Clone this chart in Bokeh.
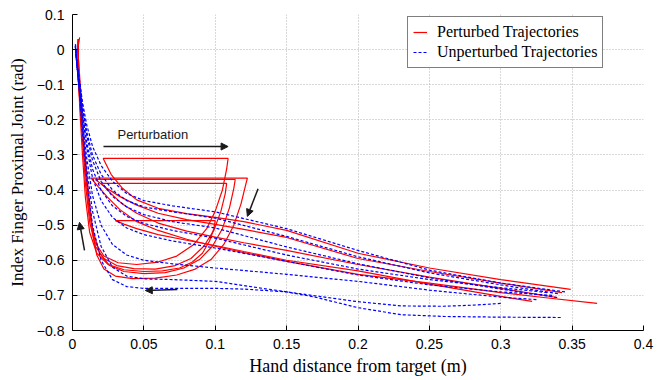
from bokeh.plotting import figure
from bokeh.models import (Range1d, FixedTicker, Legend, LegendItem, Arrow,
                          NormalHead, Label)
from bokeh.embed import file_html
from bokeh.resources import INLINE

# ---- perturbed trajectories (hand distance [m], PIP joint angle [rad]) ----
r1_x = [0.349, 0.30, 0.25, 0.20, 0.15, 0.12, 0.10, 0.08, 0.06, 0.045, 0.035, 0.027, 0.0215,
        0.109, 0.108, 0.105, 0.100, 0.094, 0.085, 0.073, 0.060, 0.045, 0.032, 0.022, 0.016,
        0.012, 0.009, 0.006, 0.004, 0.004, 0.005]
r1_y = [-0.683, -0.655, -0.622, -0.580, -0.515, -0.490, -0.478, -0.467, -0.452, -0.428, -0.395, -0.355, -0.310,
        -0.310, -0.340, -0.400, -0.460, -0.510, -0.555, -0.588, -0.605, -0.612, -0.607, -0.588, -0.550,
        -0.470, -0.350, -0.200, -0.080, 0.010, 0.035]

r2_x = [0.3675, 0.33, 0.30, 0.25, 0.20, 0.15, 0.12, 0.10, 0.08, 0.06, 0.045, 0.033, 0.024, 0.018, 0.013,
        0.1225, 0.121, 0.118, 0.113, 0.106, 0.097, 0.086, 0.073, 0.058, 0.042, 0.030, 0.022, 0.017,
        0.014, 0.011, 0.008, 0.005, 0.003, 0.004]
r2_y = [-0.723, -0.706, -0.692, -0.665, -0.640, -0.603, -0.578, -0.560, -0.540, -0.515, -0.490, -0.455, -0.418, -0.390, -0.366,
        -0.366, -0.390, -0.440, -0.500, -0.555, -0.598, -0.625, -0.642, -0.651, -0.652, -0.645, -0.625, -0.585,
        -0.520, -0.420, -0.280, -0.140, -0.030, 0.030]

r3_x = [0.343, 0.30, 0.25, 0.20, 0.15, 0.12, 0.10, 0.08, 0.06, 0.045, 0.033, 0.024, 0.016,
        0.114, 0.113, 0.110, 0.105, 0.098, 0.089, 0.078, 0.065, 0.050, 0.036, 0.026, 0.019,
        0.014, 0.011, 0.008, 0.006, 0.004, 0.004]
r3_y = [-0.692, -0.665, -0.632, -0.595, -0.535, -0.512, -0.498, -0.484, -0.466, -0.443, -0.418, -0.395, -0.370,
        -0.370, -0.395, -0.450, -0.510, -0.560, -0.598, -0.622, -0.635, -0.638, -0.632, -0.615, -0.580,
        -0.510, -0.400, -0.260, -0.130, -0.020, 0.030]

r4_x = [0.3395, 0.30, 0.25, 0.20, 0.15, 0.12, 0.10, 0.08, 0.06, 0.045, 0.035, 0.027, 0.020,
        0.108, 0.107, 0.104, 0.099, 0.092, 0.083, 0.072, 0.058, 0.043, 0.031, 0.022, 0.016,
        0.012, 0.009, 0.007, 0.005, 0.004, 0.004]
r4_y = [-0.706, -0.680, -0.648, -0.612, -0.572, -0.550, -0.534, -0.517, -0.494, -0.466, -0.440, -0.410, -0.381,
        -0.381, -0.410, -0.460, -0.515, -0.560, -0.595, -0.615, -0.625, -0.624, -0.615, -0.595, -0.560,
        -0.490, -0.380, -0.250, -0.120, -0.010, 0.025]

r5_x = [0.322, 0.30, 0.25, 0.20, 0.15, 0.12, 0.10, 0.08, 0.06, 0.045, 0.036, 0.030,
        0.100, 0.099, 0.096, 0.091, 0.084, 0.075, 0.063, 0.050, 0.036, 0.025, 0.017, 0.012,
        0.009, 0.007, 0.005, 0.004, 0.004]
r5_y = [-0.717, -0.703, -0.668, -0.630, -0.600, -0.575, -0.558, -0.543, -0.527, -0.510, -0.497, -0.487,
        -0.487, -0.510, -0.545, -0.580, -0.605, -0.622, -0.630, -0.632, -0.627, -0.612, -0.580, -0.520,
        -0.420, -0.300, -0.160, -0.040, 0.030]

# ---- unperturbed trajectories ----
b_grid = [0.30, 0.25, 0.20, 0.15, 0.10, 0.07, 0.05, 0.038, 0.028, 0.020, 0.014, 0.010, 0.007, 0.005, 0.003, 0.002]

b1_x = [0.345] + b_grid
b1_y = [-0.690, -0.665, -0.628, -0.572, -0.510, -0.462, -0.445, -0.430, -0.410, -0.375, -0.330, -0.275, -0.215, -0.150, -0.090, -0.030, 0.020]
b2_x = [0.340] + b_grid
b2_y = [-0.695, -0.670, -0.636, -0.590, -0.532, -0.480, -0.462, -0.448, -0.430, -0.400, -0.355, -0.300, -0.235, -0.160, -0.095, -0.030, 0.015]
b3_x = [0.3395] + b_grid
b3_y = [-0.706, -0.682, -0.650, -0.610, -0.562, -0.508, -0.490, -0.470, -0.448, -0.418, -0.375, -0.315, -0.245, -0.170, -0.100, -0.035, 0.010]
b4_x = [0.3325] + b_grid
b4_y = [-0.692, -0.678, -0.655, -0.625, -0.585, -0.537, -0.515, -0.495, -0.475, -0.445, -0.400, -0.340, -0.265, -0.180, -0.105, -0.035, 0.010]
b5_x = [0.336] + b_grid
b5_y = [-0.700, -0.690, -0.670, -0.642, -0.603, -0.565, -0.545, -0.527, -0.508, -0.478, -0.430, -0.365, -0.280, -0.190, -0.110, -0.040, 0.005]
b6_x = [0.325] + b_grid
b6_y = [-0.712, -0.705, -0.685, -0.660, -0.640, -0.622, -0.610, -0.600, -0.585, -0.555, -0.500, -0.415, -0.310, -0.205, -0.120, -0.040, 0.010]
b7_x = [0.30, 0.28, 0.26, 0.23, 0.20, 0.15, 0.10, 0.07, 0.05, 0.038, 0.028, 0.020, 0.014, 0.010, 0.007, 0.005, 0.003, 0.002]
b7_y = [-0.723, -0.728, -0.731, -0.730, -0.718, -0.690, -0.660, -0.655, -0.653, -0.645, -0.620, -0.560, -0.460, -0.340, -0.220, -0.120, -0.040, 0.010]
b8_x = [0.342, 0.30, 0.26, 0.23, 0.20, 0.17, 0.15, 0.12, 0.10, 0.07, 0.05, 0.038, 0.028, 0.020, 0.014, 0.010, 0.007, 0.005, 0.003, 0.002]
b8_y = [-0.763, -0.762, -0.760, -0.755, -0.735, -0.705, -0.690, -0.682, -0.680, -0.680, -0.680, -0.675, -0.655, -0.600, -0.500, -0.370, -0.240, -0.130, -0.040, 0.010]

red_xs = [r1_x, r2_x, r3_x, r4_x, r5_x]
red_ys = [r1_y, r2_y, r3_y, r4_y, r5_y]
blue_xs = [b1_x, b2_x, b3_x, b4_x, b5_x, b6_x, b7_x, b8_x]
blue_ys = [b1_y, b2_y, b3_y, b4_y, b5_y, b6_y, b7_y, b8_y]

x_ticks = [0, 0.05, 0.1, 0.15, 0.2, 0.25, 0.3, 0.35, 0.4]
x_tick_labels = ["0", "0.05", "0.1", "0.15", "0.2", "0.25", "0.3", "0.35", "0.4"]
y_ticks = [0.1, 0, -0.1, -0.2, -0.3, -0.4, -0.5, -0.6, -0.7, -0.8]
y_tick_labels = ["0.1", "0", "\u22120.1", "\u22120.2", "\u22120.3", "\u22120.4",
                 "\u22120.5", "\u22120.6", "\u22120.7", "\u22120.8"]

SANS = "Liberation Sans"
SERIF = "Liberation Serif"

p = figure(width=657, height=380, output_backend="svg", toolbar_location=None,
           x_range=Range1d(0, 0.4), y_range=Range1d(-0.8, 0.1),
           min_border_left=72, min_border_right=14, min_border_top=14, min_border_bottom=50)
p.outline_line_color = None
p.background_fill_color = "white"
p.border_fill_color = "white"

for ax, ticks, labels in ((p.xaxis[0], x_ticks, x_tick_labels), (p.yaxis[0], y_ticks, y_tick_labels)):
    ax.ticker = FixedTicker(ticks=ticks)
    ax.major_label_overrides = {t: l for t, l in zip(ticks, labels)}
    ax.major_tick_in = 5
    ax.major_tick_out = 0
    ax.minor_tick_in = 0
    ax.minor_tick_out = 0
    ax.axis_line_color = "black"
    ax.axis_line_width = 1
    ax.major_tick_line_color = "black"
    ax.major_label_text_font = SANS
    ax.major_label_text_font_size = "14px"
    ax.major_label_text_color = "black"
    ax.axis_label_text_font = SERIF
    ax.axis_label_text_font_style = "normal"
    ax.axis_label_text_color = "black"

p.xaxis.axis_label = "Hand distance from target (m)"
p.yaxis.axis_label = "Index Finger Proximal Joint (rad)"
p.xaxis.axis_label_text_font_size = "18px"
p.yaxis.axis_label_text_font_size = "17px"
p.xaxis.major_label_standoff = 8
p.yaxis.major_label_standoff = 8
p.xaxis.axis_label_standoff = 4
p.yaxis.axis_label_standoff = 7

for g in (p.xgrid[0], p.ygrid[0]):
    g.grid_line_color = "#b0b0b0"
    g.grid_line_dash = "1 2"
    g.grid_line_width = 1
p.xgrid.ticker = FixedTicker(ticks=x_ticks)
p.ygrid.ticker = FixedTicker(ticks=y_ticks)

red = p.multi_line(xs=red_xs, ys=red_ys, line_color="#ff0000", line_width=1.2)
blue = p.multi_line(xs=blue_xs, ys=blue_ys, line_color="#0000ff", line_width=1.2,
                    line_dash="3 2")

legend = Legend(items=[LegendItem(label="Perturbed Trajectories", renderers=[red]),
                       LegendItem(label="Unperturbed Trajectories", renderers=[blue])],
                location=(335, 262), orientation="vertical",
                label_text_font=SERIF, label_text_font_size="16px",
                label_text_color="black", glyph_width=14, glyph_height=20,
                label_height=20, label_standoff=10, padding=5, spacing=0, margin=0,
                border_line_color="black", border_line_width=1.5,
                background_fill_color="white", background_fill_alpha=1)
p.add_layout(legend, "center")

# direction-of-motion arrows
head = dict(size=7, fill_color="#1a1a1a", line_color="#1a1a1a")
p.add_layout(Arrow(end=NormalHead(**head), x_start=0.0217, y_start=-0.276, x_end=0.109, y_end=-0.276,
                   line_color="#1a1a1a", line_width=1.5))
p.add_layout(Arrow(end=NormalHead(**head), x_start=0.130, y_start=-0.396, x_end=0.1225, y_end=-0.475,
                   line_color="#1a1a1a", line_width=1.5))
p.add_layout(Arrow(end=NormalHead(**head), x_start=0.0735, y_start=-0.683, x_end=0.051, y_end=-0.686,
                   line_color="#1a1a1a", line_width=1.5))
p.add_layout(Arrow(end=NormalHead(**head), x_start=0.0084, y_start=-0.572, x_end=0.0049, y_end=-0.492,
                   line_color="#1a1a1a", line_width=1.5))
p.add_layout(Label(x=0.0315, y=-0.242, text="Perturbation", text_font=SANS, text_font_size="13px",
                   text_color="#1a1a1a", text_baseline="middle", text_align="left"))

open("out.html", "w").write(file_html(p, INLINE))
